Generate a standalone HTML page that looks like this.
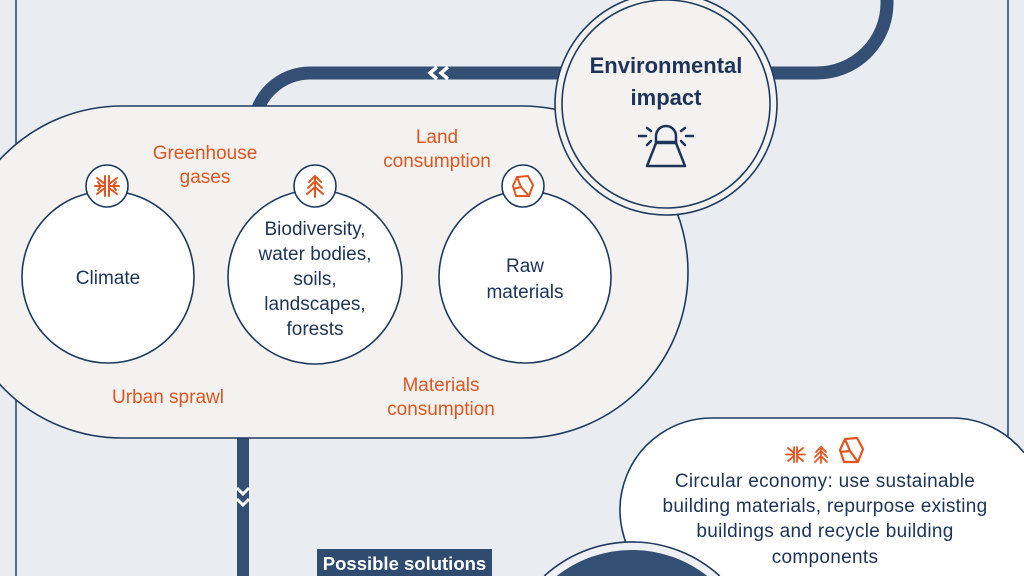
<!DOCTYPE html>
<html><head><meta charset="utf-8"><style>
html,body{margin:0;padding:0;width:1024px;height:576px;overflow:hidden;background:#e9edf2;}
svg{display:block;overflow:hidden;}
text{font-family:"Liberation Sans",sans-serif;}
.o{fill:#e1561f;font-size:19px;}
.n{fill:#1d3458;font-size:19px;}
.c{fill:#1d3458;font-size:19px;letter-spacing:0.3px;}
</style></head><body>
<svg width="1024" height="576" viewBox="0 0 1024 576" xmlns="http://www.w3.org/2000/svg">
<rect width="1024" height="576" fill="#e9edf2"/>
<!-- thin side lines -->
<line x1="16" y1="0" x2="16" y2="576" stroke="#2c4a6e" stroke-width="1.6"/>
<line x1="1008" y1="0" x2="1008" y2="576" stroke="#2c4a6e" stroke-width="1.6"/>
<!-- thick connectors -->
<path d="M887 0 L887 3 A70 70 0 0 1 817 73 L310 73 A56 56 0 0 0 254 129" fill="none" stroke="#334f74" stroke-width="13"/>
<polyline points="437,67 430,73 437,79" fill="none" stroke="#fff" stroke-width="3.5"/>
<polyline points="448,67 441,73 448,79" fill="none" stroke="#fff" stroke-width="3.5"/>
<line x1="243" y1="430" x2="243" y2="576" stroke="#334f74" stroke-width="12"/>
<polyline points="237,488 243,494 249,488" fill="none" stroke="#fff" stroke-width="3"/>
<polyline points="237,499 243,505 249,499" fill="none" stroke="#fff" stroke-width="3"/>
<!-- big pill -->
<rect x="-44" y="106" width="732" height="332" rx="166" fill="#f3f2f0" stroke="#1f3a5f" stroke-width="1.6"/>
<!-- circles -->
<circle cx="108" cy="277" r="86" fill="#fff" stroke="#1f3a5f" stroke-width="1.6"/>
<circle cx="315" cy="277" r="87" fill="#fff" stroke="#1f3a5f" stroke-width="1.6"/>
<circle cx="525" cy="277" r="86" fill="#fff" stroke="#1f3a5f" stroke-width="1.6"/>
<circle cx="107" cy="186" r="21" fill="#fff" stroke="#1f3a5f" stroke-width="1.6"/>
<circle cx="315" cy="186" r="21" fill="#fff" stroke="#1f3a5f" stroke-width="1.6"/>
<circle cx="523" cy="186" r="21" fill="#fff" stroke="#1f3a5f" stroke-width="1.6"/>
<!-- climate icon -->
<g stroke="#e1561f" stroke-width="2" fill="none" stroke-linecap="round">
<line x1="105" y1="176" x2="105" y2="196"/><line x1="109" y1="176" x2="109" y2="196"/>
<line x1="95" y1="186" x2="105" y2="186"/><polyline points="98,182 101,186 98,190"/>
<line x1="97" y1="178" x2="105" y2="184"/><line x1="97" y1="194" x2="105" y2="188"/>
<line x1="109" y1="186" x2="119" y2="186"/><polyline points="116,182 113,186 116,190"/>
<line x1="117" y1="178" x2="109" y2="184"/><line x1="117" y1="194" x2="109" y2="188"/>
</g>
<!-- tree icon -->
<g stroke="#e1561f" stroke-width="2" fill="none" stroke-linecap="round">
<line x1="315" y1="176" x2="315" y2="197"/>
<polyline points="309,182 315,176 321,182"/>
<polyline points="308,188 315,181 322,188"/>
<polyline points="307,194 315,187 323,194"/>
</g>
<!-- rock icon -->
<g stroke="#e1561f" stroke-width="2" fill="none" stroke-linejoin="round">
<polygon points="517,177 528,176 533,185 529,196 516,196 513,186"/>
<polyline points="517,177 521,187 529,196"/><line x1="521" y1="187" x2="513" y2="189"/>
</g>
<!-- labels in pill -->
<text class="o" x="205" y="159" text-anchor="middle">Greenhouse</text>
<text class="o" x="205" y="183" text-anchor="middle">gases</text>
<text class="o" x="437" y="143" text-anchor="middle">Land</text>
<text class="o" x="437" y="167" text-anchor="middle">consumption</text>
<text class="o" x="168" y="403" text-anchor="middle">Urban sprawl</text>
<text class="o" x="441" y="391" text-anchor="middle">Materials</text>
<text class="o" x="441" y="415" text-anchor="middle">consumption</text>
<text class="n" x="108" y="284" text-anchor="middle">Climate</text>
<text class="n" x="315" y="235" text-anchor="middle">Biodiversity,</text>
<text class="n" x="315" y="260" text-anchor="middle">water bodies,</text>
<text class="n" x="315" y="285" text-anchor="middle">soils,</text>
<text class="n" x="315" y="310" text-anchor="middle">landscapes,</text>
<text class="n" x="315" y="335" text-anchor="middle">forests</text>
<text class="n" x="525" y="272" text-anchor="middle">Raw</text>
<text class="n" x="525" y="298" text-anchor="middle">materials</text>
<!-- environmental impact circle -->
<circle cx="666" cy="104" r="111" fill="#f3f2f0" stroke="#1f3a5f" stroke-width="1.6"/>
<circle cx="666" cy="104" r="104" fill="#f3f2f0" stroke="#1f3a5f" stroke-width="1.6"/>
<text x="666" y="73" text-anchor="middle" font-weight="bold" font-size="22" fill="#1d3458">Environmental</text>
<text x="666" y="105" text-anchor="middle" font-weight="bold" font-size="22" fill="#1d3458">impact</text>
<g stroke="#1d3458" stroke-width="2.5" fill="none" stroke-linecap="round">
<path d="M656 143 L656 136 A10 10 0 0 1 676 136 L676 143"/>
<line x1="656" y1="142" x2="676" y2="142"/>
<polygon points="656,143 676,143 685,166 647,166" stroke-linejoin="round"/>
<line x1="639" y1="136" x2="646" y2="136"/><line x1="686" y1="136" x2="693" y2="136"/>
<line x1="647" y1="128" x2="651" y2="131"/><line x1="685" y1="128" x2="681" y2="131"/>
<line x1="647" y1="145" x2="651" y2="141"/><line x1="685" y1="145" x2="681" y2="141"/>
</g>
<!-- circular economy pill (clipped to frame) -->
<path d="M647.9 576 A92 92 0 0 1 712 418 L952 418 A92 92 0 0 1 1024 452.7 L1024 576 Z" fill="#fff"/>
<path d="M647.9 576 A92 92 0 0 1 712 418 L952 418 A92 92 0 0 1 1024 452.7" fill="none" stroke="#1f3a5f" stroke-width="1.6"/>
<g stroke="#e1561f" stroke-width="1.8" fill="none" stroke-linecap="round">
<line x1="794" y1="447" x2="794" y2="462"/><line x1="797" y1="447" x2="797" y2="462"/>
<line x1="786" y1="454.5" x2="794" y2="454.5"/><line x1="797" y1="454.5" x2="805" y2="454.5"/>
<line x1="788" y1="448" x2="794" y2="453"/><line x1="788" y1="461" x2="794" y2="456"/>
<line x1="803" y1="448" x2="797" y2="453"/><line x1="803" y1="461" x2="797" y2="456"/>
<line x1="821" y1="447" x2="821" y2="463"/>
<polyline points="816,452 821,447 826,452"/>
<polyline points="815,457 821,451 827,457"/>
<polyline points="815,462 821,456 827,462"/>
</g>
<g stroke="#e1561f" stroke-width="2.2" fill="none" stroke-linejoin="round">
<polygon points="845,439 857,438 863,449 858,462 844,462 840,450"/>
<polyline points="845,439 850,451 858,462"/><line x1="850" y1="451" x2="840" y2="452"/>
</g>
<text class="c" x="825" y="487" text-anchor="middle">Circular economy: use sustainable</text>
<text class="c" x="825" y="512" text-anchor="middle">building materials, repurpose existing</text>
<text class="c" x="825" y="537" text-anchor="middle">buildings and recycle building</text>
<text class="c" x="825" y="563" text-anchor="middle">components</text>
<!-- dark circle (clipped to frame) -->
<path d="M544.3 576 A130 130 0 0 1 719.7 576 Z" fill="#eef0f3"/>
<path d="M544.3 576 A130 130 0 0 1 719.7 576" fill="none" stroke="#1f3a5f" stroke-width="1.6"/>
<path d="M556.7 576 A122 122 0 0 1 707.3 576 Z" fill="#334f74"/>
<!-- possible solutions label -->
<rect x="317" y="549" width="175" height="27" fill="#2f4b70"/>
<text x="404.5" y="570" text-anchor="middle" font-weight="bold" font-size="18.5" fill="#fff">Possible solutions</text>
</svg>
</body></html>
